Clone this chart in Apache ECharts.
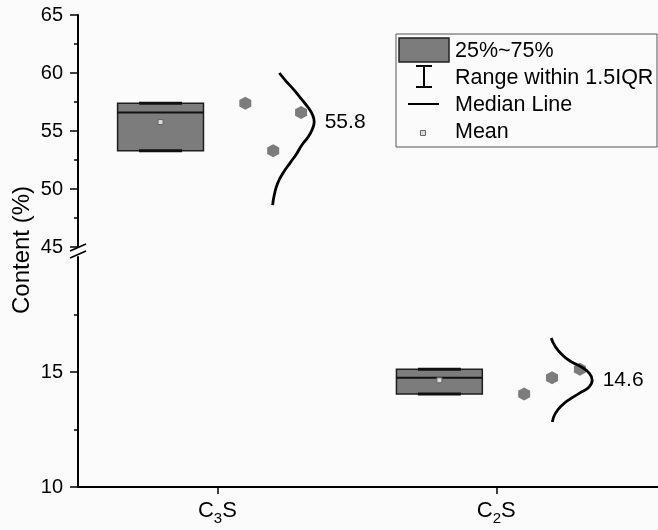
<!DOCTYPE html>
<html><head><meta charset="utf-8">
<script src="https://cdn.jsdelivr.net/npm/echarts@6/dist/echarts.min.js"></script>
<style>html,body{margin:0;padding:0;background:#fbfbfb}#c{width:658px;height:530px}</style>
</head><body><div id="c"></div>
<script>
// ---------- data ----------
const categories = ['C3S', 'C2S'];
const catPos = [1, 2];
const q1 = [53.3, 14.04];
const median = [56.6, 14.75];
const q3 = [57.4, 15.12];
const whiskerLow = [53.3, 14.04];
const whiskerHigh = [57.4, 15.12];
const means = [55.77, 14.64];
const pointsC3S = [57.4, 53.3, 56.6];
const pointsC2S = [14.04, 14.75, 15.12];
// distribution curves: value along y, density (as x offset from category)
const curveC3S_value   = [60.0, 59.3, 58.5, 57.7, 57.0, 56.4, 55.8, 55.2, 54.5, 53.8, 53.0, 52.3, 51.4, 50.5, 49.5, 48.6];
const curveC3S_density = [0.222, 0.246, 0.276, 0.303, 0.326, 0.341, 0.347, 0.341, 0.326, 0.303, 0.283, 0.262, 0.236, 0.216, 0.204, 0.198];
const curveC2S_value   = [16.48, 16.1, 15.74, 15.45, 15.22, 14.95, 14.65, 14.35, 14.09, 13.85, 13.57, 13.2, 12.83];
const curveC2S_density = [0.197, 0.212, 0.237, 0.268, 0.305, 0.333, 0.344, 0.333, 0.300, 0.268, 0.237, 0.212, 0.201];
const yTicksTop = [45, 50, 55, 60, 65];
const yTicksBottom = [10, 15];
const legendLabels = ['25%~75%', 'Range within 1.5IQR', 'Median Line', 'Mean'];
const yAxisTitle = 'Content (%)';

// ---------- layout constants ----------
const BOX_OFFSET = -0.204, BOX_W = 0.308, CAP_W = 0.154;
const JITTER = [0.1, 0.2, 0.3];
const FONT = 'Liberation Sans, Arial, sans-serif';
const INK = '#000';

const chart = echarts.init(document.getElementById('c'), null, {renderer: 'canvas'});

function boxRender(params, api) {
  const x = api.value(0) + BOX_OFFSET;
  const lo = api.coord([x - BOX_W / 2, api.value(1)]);
  const hi = api.coord([x + BOX_W / 2, api.value(3)]);
  const md = api.coord([x, api.value(2)]);
  const wl = api.coord([x, api.value(4)]);
  const wh = api.coord([x, api.value(5)]);
  const mn = api.coord([x, api.value(6)]);
  const capHalf = api.size([CAP_W, 0])[0] / 2;
  return {type: 'group', children: [
    {type: 'rect', shape: {x: lo[0], y: hi[1], width: hi[0] - lo[0], height: lo[1] - hi[1]},
     style: {fill: '#7c7c7c', stroke: '#1e1e1e', lineWidth: 1.5}},
    {type: 'line', shape: {x1: lo[0], y1: md[1], x2: hi[0], y2: md[1]}, style: {stroke: '#111', lineWidth: 2}},
    {type: 'line', shape: {x1: wl[0] - capHalf, y1: wl[1], x2: wl[0] + capHalf, y2: wl[1]}, style: {stroke: '#111', lineWidth: 3}},
    {type: 'line', shape: {x1: wh[0] - capHalf, y1: wh[1], x2: wh[0] + capHalf, y2: wh[1]}, style: {stroke: '#111', lineWidth: 3}},
    {type: 'rect', shape: {x: mn[0] - 2.5, y: mn[1] - 2.5, width: 5, height: 5}, style: {fill: '#dcdcdc', stroke: '#666', lineWidth: 1}}
  ]};
}

const hexagon = 'path://M0,-1 L0.866,-0.5 L0.866,0.5 L0,1 L-0.866,0.5 L-0.866,-0.5 Z';
const allPoints = [pointsC3S, pointsC2S];
const curves = [[curveC3S_value, curveC3S_density], [curveC2S_value, curveC2S_density]];

const series = [];
for (let i = 0; i < categories.length; i++) {
  series.push({
    type: 'custom', xAxisIndex: i, yAxisIndex: i, renderItem: boxRender, silent: true,
    data: [[catPos[i], q1[i], median[i], q3[i], whiskerLow[i], whiskerHigh[i], means[i]]]
  });
  series.push({
    type: 'scatter', xAxisIndex: i, yAxisIndex: i, symbol: hexagon, symbolSize: [12, 13],
    itemStyle: {color: '#7c7c7c', opacity: 1}, silent: true,
    data: allPoints[i].map((v, j) => [catPos[i] + JITTER[j], v])
  });
  const [vals, dens] = curves[i];
  series.push({
    type: 'line', xAxisIndex: i, yAxisIndex: i, smooth: true, showSymbol: false, silent: true,
    lineStyle: {color: '#000', width: 2.8},
    data: vals.map((v, j) => [catPos[i] + dens[j], v])
  });
  const maxDens = Math.max(...dens);
  series.push({
    type: 'scatter', xAxisIndex: i, yAxisIndex: i, symbolSize: 1, silent: true,
    itemStyle: {opacity: 0},
    label: {show: true, position: 'right', distance: 10, formatter: means[i].toFixed(1),
            fontSize: 21, color: INK, opacity: 1, fontFamily: FONT},
    data: [[catPos[i] + maxDens, means[i]]]
  });
}

function catLabel(v) {
  const i = catPos.indexOf(v);
  if (i < 0) return '';
  const c = categories[i];
  return '{n|' + c[0] + '}{s|' + c[1] + '}{n|' + c.slice(2) + '}';
}

const xCommon = {type: 'value', min: 0.5, max: 2.58, splitLine: {show: false}};
const yCommon = {
  type: 'value', interval: 5,
  axisLine: {show: true, lineStyle: {color: INK, width: 2}},
  axisTick: {show: true, inside: false, length: 8, lineStyle: {color: INK, width: 1.5}},
  minorTick: {show: true, splitNumber: 2, length: 4, lineStyle: {color: INK, width: 1.5}},
  splitLine: {show: false},
  axisLabel: {fontSize: 20, color: INK, fontFamily: FONT, margin: 15}
};

// legend graphics
const LX = 396, LY = 34;
const textStyle = (t, y) => ({type: 'text', x: 455, y: y, style: {text: t, fontSize: 21.5, fontFamily: FONT, fill: INK, verticalAlign: 'middle', align: 'left'}});
const legendGraphics = [
  {type: 'rect', shape: {x: LX, y: LY, width: 261, height: 113}, style: {fill: 'rgba(0,0,0,0)', stroke: '#555', lineWidth: 1}},
  {type: 'rect', shape: {x: 399, y: 38, width: 50, height: 24}, style: {fill: '#7c7c7c', stroke: '#222', lineWidth: 1.5}},
  textStyle(legendLabels[0], 51),
  {type: 'line', shape: {x1: 424, y1: 66, x2: 424, y2: 87}, style: {stroke: INK, lineWidth: 2}},
  {type: 'line', shape: {x1: 416, y1: 66, x2: 432, y2: 66}, style: {stroke: INK, lineWidth: 2}},
  {type: 'line', shape: {x1: 416, y1: 87, x2: 432, y2: 87}, style: {stroke: INK, lineWidth: 2}},
  textStyle(legendLabels[1], 78),
  {type: 'line', shape: {x1: 408, y1: 104, x2: 439, y2: 104}, style: {stroke: INK, lineWidth: 2}},
  textStyle(legendLabels[2], 105),
  {type: 'rect', shape: {x: 420.5, y: 130.5, width: 5, height: 5}, style: {fill: '#dcdcdc', stroke: '#666', lineWidth: 1}},
  textStyle(legendLabels[3], 132)
];

const option = {
  backgroundColor: '#fbfbfb',
  animation: false,
  grid: [
    {left: 78, right: 0, top: 15, height: 232},
    {left: 78, right: 0, top: 257, height: 230}
  ],
  xAxis: [
    Object.assign({}, xCommon, {gridIndex: 0, show: false}),
    Object.assign({}, xCommon, {gridIndex: 1,
      axisLine: {show: true, onZero: false, lineStyle: {color: INK, width: 2}},
      axisTick: {show: true, inside: false, length: 7, customValues: catPos, lineStyle: {color: INK, width: 1.5}},
      axisLabel: {customValues: catPos, margin: 12, formatter: catLabel,
        rich: {n: {fontSize: 22, color: INK, fontFamily: FONT, lineHeight: 24, verticalAlign: 'middle'},
               s: {fontSize: 15, color: INK, fontFamily: FONT, lineHeight: 4, verticalAlign: 'bottom', padding: [0, 0, -3, 0]}}}
    })
  ],
  yAxis: [
    Object.assign({}, yCommon, {gridIndex: 0, min: yTicksTop[0], max: yTicksTop[yTicksTop.length - 1]}),
    Object.assign({}, yCommon, {gridIndex: 1, min: yTicksBottom[0], max: 20,
      axisTick: Object.assign({}, yCommon.axisTick, {customValues: yTicksBottom}),
      axisLabel: Object.assign({}, yCommon.axisLabel, {customValues: yTicksBottom})})
  ],
  series: series,
  graphic: legendGraphics.concat([
    {type: 'text', x: 22, y: 250, rotation: Math.PI / 2,
     style: {text: yAxisTitle, fontSize: 24, fontFamily: FONT, fill: INK, align: 'center', verticalAlign: 'middle'}},
    // axis break marks
    {type: 'rect', shape: {x: 75, y: 247, width: 5, height: 9}, style: {fill: '#fbfbfb'}},
    {type: 'line', shape: {x1: 70, y1: 251, x2: 86, y2: 244}, style: {stroke: INK, lineWidth: 1.5}},
    {type: 'line', shape: {x1: 70, y1: 258, x2: 86, y2: 251}, style: {stroke: INK, lineWidth: 1.5}}
  ])
};
chart.setOption(option);
</script></body></html>
